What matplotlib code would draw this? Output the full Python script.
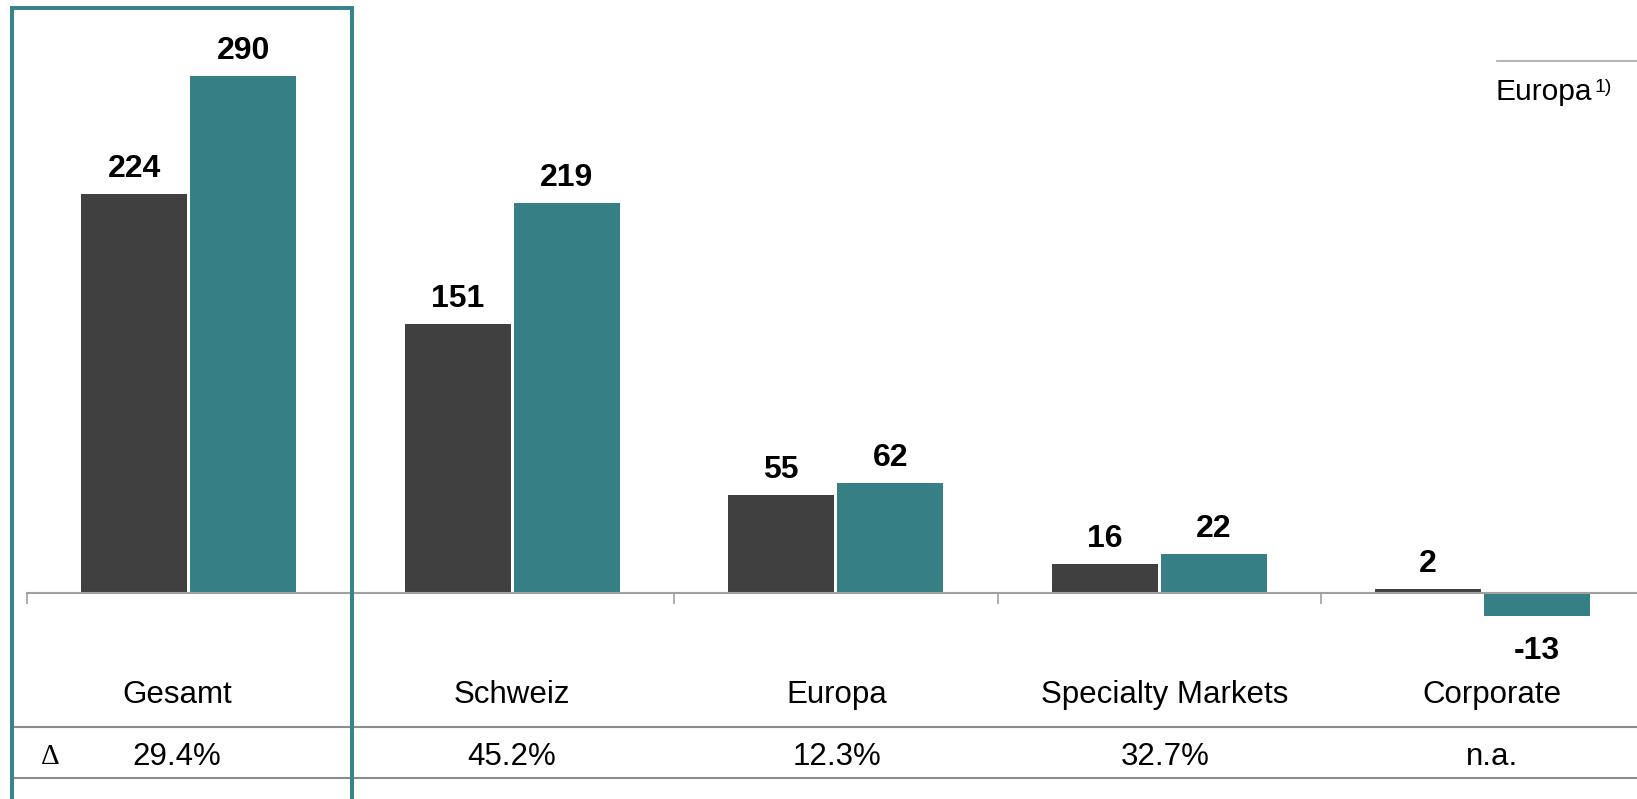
import matplotlib
matplotlib.use('Agg')
import matplotlib.pyplot as plt
from matplotlib.patches import Rectangle
from matplotlib.lines import Line2D
import numpy as np

# Daten
categories = ['Gesamt', 'Schweiz', 'Europa', 'Specialty Markets', 'Corporate']
vorjahr = [224, 151, 55, 16, 2]
aktuell = [290, 219, 62, 22, -13]
delta = ['29.4%', '45.2%', '12.3%', '32.7%', 'n.a.']

plt.rcParams['font.family'] = ['Liberation Sans', 'DejaVu Sans']

W, H = 1637, 799
fig = plt.figure(figsize=(W / 100, H / 100), dpi=100)


def fx(px):
    return px / W


def fy(py):
    return 1 - py / H


# Achse so legen, dass Nulllinie und Kategorieabstand zum Original passen
zero_px = 593
px_per_unit = 1.782
cat_px = 323.5
top_px, bottom_px = 20, 640
ax = fig.add_axes([fx(27), fy(bottom_px), cat_px * 5 / W, (bottom_px - top_px) / H])
ax.set_xlim(-0.5, 4.5)
ax.set_ylim((zero_px - bottom_px) / px_per_unit, (zero_px - top_px) / px_per_unit)

x = np.arange(len(categories))
off, bw = 0.1685, 0.328
b1 = ax.bar(x - off, vorjahr, bw, color='#404040')
b2 = ax.bar(x + off, aktuell, bw, color='#367F84')

for bars in (b1, b2):
    for rect in bars:
        v = rect.get_height()
        cx = rect.get_x() + rect.get_width() / 2
        if v >= 0:
            ax.annotate(f'{v:.0f}', (cx, v), xytext=(0, 17 * 0.72), textcoords='offset points',
                        ha='center', va='baseline', fontsize=23, fontweight='bold')
        else:
            ax.annotate(f'{v:.0f}', (cx, v), xytext=(0, -43 * 0.72), textcoords='offset points',
                        ha='center', va='baseline', fontsize=23, fontweight='bold')

for s in ['top', 'right', 'left']:
    ax.spines[s].set_visible(False)
ax.spines['bottom'].set_position(('data', 0))
ax.spines['bottom'].set_color('#a0a0a0')
ax.spines['bottom'].set_linewidth(1.5)
ax.set_xticks(np.arange(-0.5, 5, 1))
ax.tick_params(axis='x', direction='out', length=8, width=1.2, color='#a0a0a0', labelbottom=False)
ax.set_yticks([])
ax.patch.set_visible(False)

# Kategorien und Veränderungszeile
label_x = [177, 512, 837, 1165, 1492]
for xc, cat, d in zip(label_x, categories, delta):
    fig.text(fx(xc), fy(703), cat, ha='center', va='baseline', fontsize=22.5)
    fig.text(fx(xc), fy(765), d, ha='center', va='baseline', fontsize=22.5)
fig.text(fx(50), fy(764), 'Δ', ha='center', va='baseline', fontsize=21, family='Liberation Serif')

for yy in (727, 778):
    fig.add_artist(Line2D([fx(12), 1], [fy(yy), fy(yy)], transform=fig.transFigure,
                          color='#8c8c8c', lw=1.5))

# Rahmen um Gesamt
fig.add_artist(Rectangle((fx(12), fy(820)), fx(352) - fx(12), fy(8) - fy(820),
                         fill=False, ec='#3a8489', lw=2.9, transform=fig.transFigure,
                         clip_on=False, zorder=10))

# Legende oben rechts
fig.add_artist(Line2D([fx(1497), 1], [fy(61), fy(61)], transform=fig.transFigure,
                      color='#a6a6a6', lw=1.2))
fig.text(fx(1496), fy(100), 'Europa', ha='left', va='baseline', fontsize=21.5)
fig.text(fx(1595), fy(91.5), '1)', ha='left', va='baseline', fontsize=14)

fig.savefig('out.png', dpi=100)
